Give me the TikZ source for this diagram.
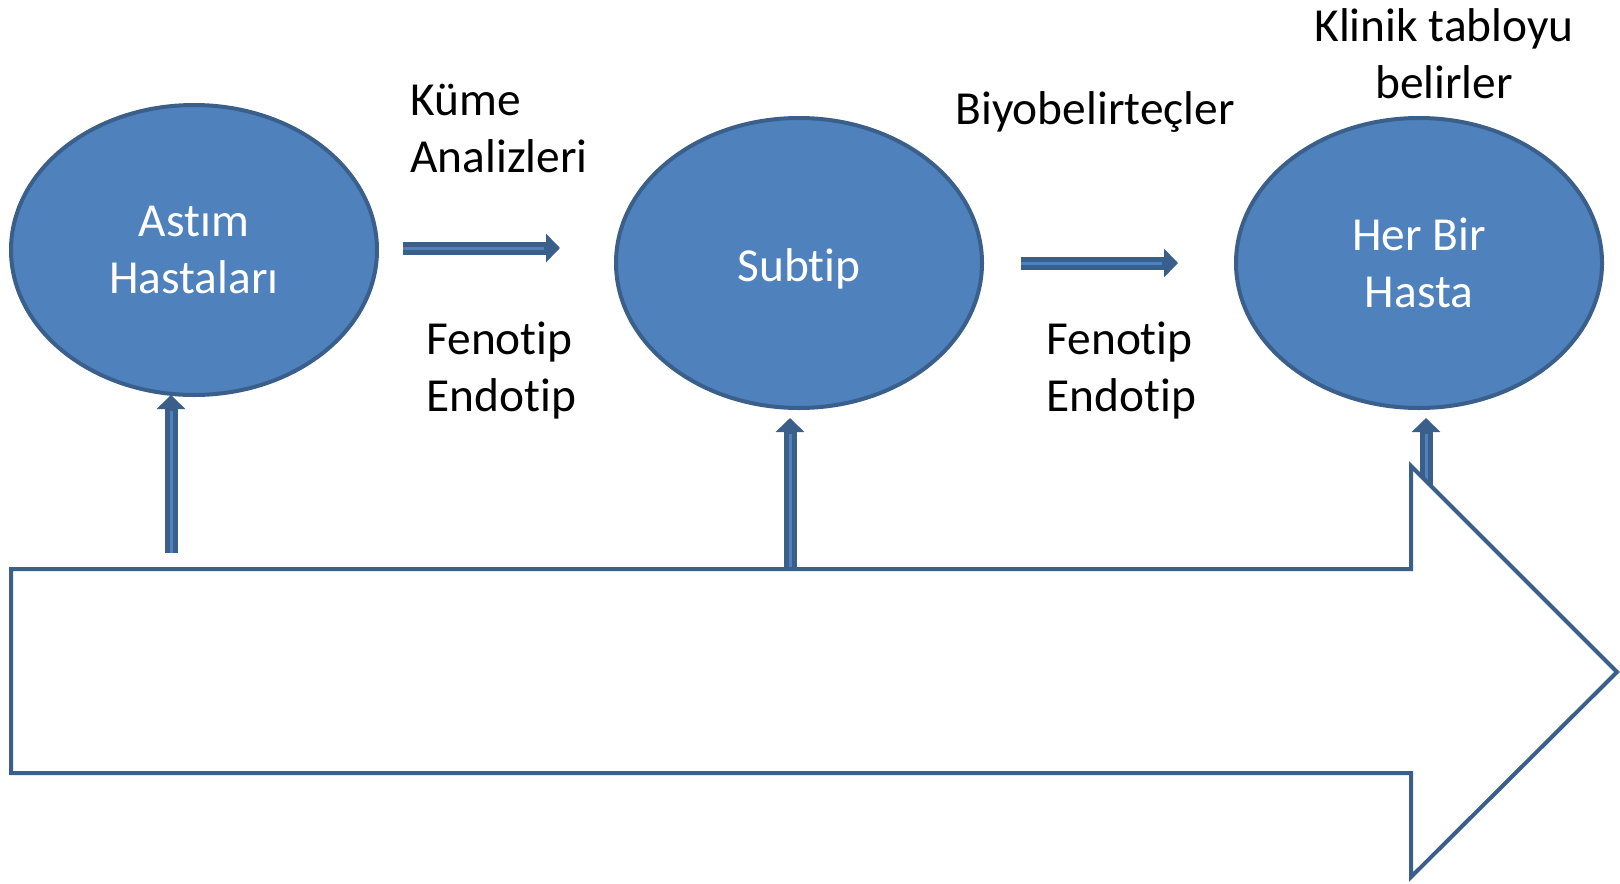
\documentclass[tikz,border=0pt]{standalone}
\usepackage{fontspec}
\setmainfont{Carlito}[Ligatures={NoCommon,NoContextual}]
\usetikzlibrary{shapes.geometric,arrows.meta}
\definecolor{cellfill}{HTML}{4F81BD}
\definecolor{cellline}{HTML}{3A5F8B}
% keep t and i apart (Carlito joins them)
\newcommand{\tsep}{t\kern0pt}

\begin{document}
\begin{tikzpicture}[x=0.5pt,y=-0.5pt,
    every node/.style={font=\fontsize{23.7}{28.5}\selectfont,inner sep=0pt},
    group/.style={ellipse,draw=cellline,fill=cellfill,line width=2pt,
        minimum width=183pt,minimum height=145pt,text=white,align=center},
    shaft/.style={draw=cellline,line width=6.5pt,-{Triangle[width=14pt,length=7pt]}},
    glint/.style={draw=cellfill,line width=1.5pt,shorten >=8pt}]
    \useasboundingbox (0,0) rectangle (1620,883);
    \node[group] (astim) at (194,250) {As\tsep ım\\Hastaları};
    \node[group] (subtip) at (799,263) {\raisebox{-3pt}[\height][\depth]{Sub\tsep ip}};
    \node[group] (hasta) at (1419,263) {Her Bir\\Hasta};
    \node[align=left,anchor=west] (kume) at (410,128) {Küme\\Analizleri};
    \node[align=left,anchor=west] (feno1) at (426,371) {Feno\tsep ip\\Endo\tsep ip};
    \node (biyo) at (1095,112) {Biyobelirteçler};
    \node[align=left,anchor=west] (feno2) at (1046,371) {Feno\tsep ip\\Endo\tsep ip};
    \node[align=center] (klinik) at (1444,54) {Klinik tabloyu\\belirler};
    % small arrows
    \coordinate (h1a) at (403,248); \coordinate (h1b) at (560,248);
    \coordinate (h2a) at (1021,263); \coordinate (h2b) at (1178,263);
    \coordinate (v1a) at (171,553); \coordinate (v1b) at (171,395);
    \coordinate (v2a) at (790,567); \coordinate (v2b) at (790,418);
    \coordinate (v3a) at (1426,485); \coordinate (v3b) at (1426,418);
    \foreach \a/\b in {h1a/h1b,h2a/h2b,v1a/v1b,v2a/v2b,v3a/v3b}{
        \draw[shaft] (\a) -- (\b);
        \draw[glint] (\a) -- (\b);
    }
    % big arrow
    \draw[cellline,fill=white,line width=2pt,line join=miter]
        (11,569) -- (1411,569) -- (1411,466) -- (1617,672) -- (1411,877)
        -- (1411,773) -- (11,773) -- cycle;
\end{tikzpicture}
\end{document}
